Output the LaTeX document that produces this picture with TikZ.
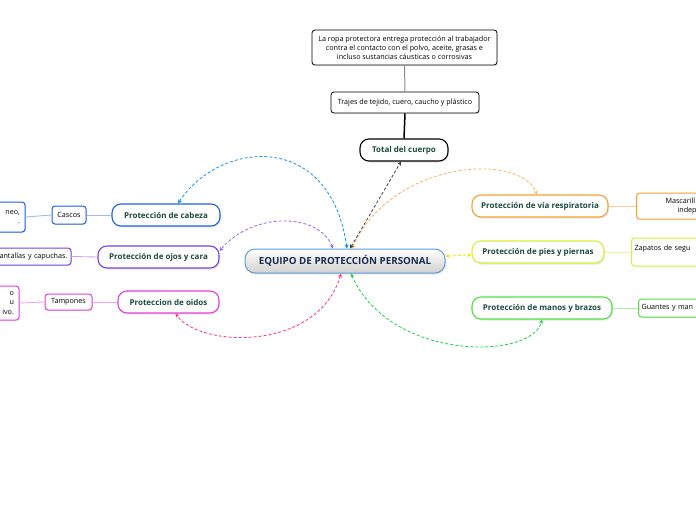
\documentclass[tikz,border=0pt]{standalone}
\usepackage{fontspec}
\setmainfont{Open Sans}
\usetikzlibrary{arrows.meta,shadows}

\definecolor{topictext}{HTML}{1B4A3C}
\definecolor{cablue}{HTML}{1E5FE6}
\definecolor{cabluel}{HTML}{9FBDF2}
\definecolor{ojpurple}{HTML}{7A3FE4}
\definecolor{ojpurplel}{HTML}{C7A8F2}
\definecolor{oimag}{HTML}{E23EE0}
\definecolor{oimagl}{HTML}{F0A6EE}
\definecolor{reorange}{HTML}{F5A232}
\definecolor{reorangel}{HTML}{F9CF95}
\definecolor{pilime}{HTML}{D6F03A}
\definecolor{pilimel}{HTML}{E8F69A}
\definecolor{magreen}{HTML}{52E042}
\definecolor{magreenl}{HTML}{A8F09E}
\definecolor{centroline}{HTML}{5A9ED6}
\definecolor{centrotext}{HTML}{1A2C4E}

\tikzset{
  topic/.style={draw, rounded corners=9pt, line width=1.1pt, fill=white, minimum height=22pt,
    inner sep=0pt, text=topictext, font=\fontsize{8}{10}\selectfont\bfseries,
    drop shadow={shadow xshift=1pt, shadow yshift=-1.5pt, opacity=0.2}},
  leaf/.style={draw, rounded corners=3pt, line width=1pt, fill=white, inner sep=0pt,
    font=\fontsize{7.2}{9.2}\selectfont, drop shadow={shadow xshift=0.8pt, shadow yshift=-1pt, opacity=0.15}},
  link/.style={dash pattern=on 3pt off 2pt, line width=0.8pt, {Stealth[length=4pt,width=4pt]}-{Stealth[length=4pt,width=4pt]}},
}

\begin{document}
\begin{tikzpicture}[x=1pt,y=-1pt]
  %%%%% START %%%%%
  \useasboundingbox (0,0) rectangle (696,520);
  \clip (0,0) rectangle (696,520);

  \node[draw=centroline, line width=1pt, rounded corners=10pt, top color=white, bottom color=black!18,
    minimum width=200pt, minimum height=24pt, inner sep=0pt, text=centrotext,
    font=\fontsize{9.8}{12}\selectfont\bfseries, drop shadow={shadow xshift=1pt, shadow yshift=-1.5pt, opacity=0.2}]
    (centro) at (345,261) {EQUIPO DE PROTECCIÓN PERSONAL};

  % cuerpo
  \node[topic, draw=black, minimum width=88pt] (total) at (404,150) {Total del cuerpo};
  \node[leaf, draw=black, line width=0.8pt, minimum width=148pt, minimum height=21pt] (trajes) at (405,102.5) {Trajes de tejido, cuero, caucho y plástico};
  \node[leaf, draw=black, line width=0.8pt, minimum width=185pt, minimum height=35pt, align=center] (ropa) at (404.5,47.5)
    {La ropa protectora entrega protección al trabajador\\contra el contacto con el polvo, aceite, grasas e\\incluso sustancias cáusticas o corrosivas};
  \draw[line width=1.5pt] (total.north) -- (trajes.south);
  \draw[line width=1pt, black!45] (trajes.north) -- (ropa.south);

  % cabeza
  \node[topic, draw=cablue, minimum width=108pt] (cabeza) at (166,215) {Protección de cabeza};
  \node[leaf, draw=cablue, minimum width=34pt, minimum height=18pt] (cascos) at (69,215) {Cascos};
  \node[leaf, draw=cablue, minimum width=80pt, minimum height=30pt, text width=70pt, align=right] (cascosinfo) at (-15,217) {neo,\\.\hspace*{13pt}};
  \draw[cabluel, line width=0.9pt] (cabeza.west) -- (cascos.east);
  \draw[cabluel, line width=0.9pt] (cascos.west) -- (cascosinfo.east);

  % ojos
  \node[topic, draw=ojpurple, minimum width=121pt] (ojos) at (158.5,257) {Protección de ojos y cara};
  \node[leaf, draw=ojpurple, minimum width=120pt, minimum height=17pt, text width=113pt, align=right] (pantallas) at (11,256.5) {antallas y capuchas.};
  \draw[ojpurplel, line width=0.9pt] (ojos.west) -- (pantallas.east);

  % oidos
  \node[topic, draw=oimag, minimum width=101pt] (oidos) at (168.5,302) {Proteccion de oidos};
  \node[leaf, draw=oimag, minimum width=47pt, minimum height=16pt] (tampones) at (68.5,302) {Tampones};
  \node[leaf, draw=oimag, minimum width=80pt, minimum height=34pt, text width=70pt, align=right] (tamponesinfo) at (-21,303) {o\hspace*{10pt}\\u\hspace*{7pt}\\ivo.};
  \draw[oimagl, line width=0.9pt] (oidos.west) -- (tampones.east);
  \draw[oimagl, line width=0.9pt] (tampones.west) -- (tamponesinfo.east);

  % respiratoria
  \node[topic, draw=reorange, minimum width=136pt] (resp) at (540,206) {Protección de vía respiratoria};
  \node[leaf, draw=reorange, anchor=west, minimum width=90pt, minimum height=26pt, text width=84pt, align=left] (mascarilla) at (636,206)
    {\hspace*{26pt}Mascarill\\\hspace*{38pt}indep};
  \draw[reorangel, line width=0.9pt] (resp.east) -- (mascarilla.west);

  % pies
  \node[topic, draw=pilime, minimum width=132pt] (pies) at (538,252) {Protección de pies y piernas};
  \node[leaf, draw=pilime, anchor=west, minimum width=90pt, minimum height=28pt, text width=84pt, align=left] (zapatos) at (631,252)
    {Zapatos de segu\\\mbox{}};
  \draw[pilimel, line width=0.9pt] (pies.east) -- (zapatos.west);

  % manos
  \node[topic, draw=magreen, minimum width=140pt] (manos) at (542,308) {Protección de manos y brazos};
  \node[leaf, draw=magreen, anchor=west, minimum width=90pt, minimum height=18pt, text width=84pt, align=left] (guantes) at (638,308)
    {Guantes y man};
  \draw[magreenl, line width=0.9pt] (manos.east) -- (guantes.west);

  % enlaces
  \draw[link, cablue!70!cyan] ([xshift=2pt]centro.north) .. controls (330,130) and (220,140) .. ([xshift=12pt]cabeza.north);
  \draw[link, ojpurple!80!white] ([xshift=-12pt]centro.north) .. controls (318,212) and (252,212) .. ([yshift=6pt]ojos.east);
  \draw[link, red!60!magenta!80!white] ([xshift=-4pt]centro.south) .. controls (318,352) and (200,348) .. ([xshift=7pt]oidos.south);
  \draw[link, green!60!teal!90!white] ([xshift=6pt]centro.south) .. controls (390,362) and (532,360) .. (manos.south);
  \draw[link, reorange!80!white] ([xshift=7pt]centro.north) .. controls (392,160) and (520,152) .. ([xshift=-3pt]resp.north);
  \draw[link, yellow!85!orange] ([yshift=5pt]centro.east) .. controls (455,256) and (462,255) .. ([yshift=-3pt]pies.west);
  \draw[link, black!75] ([xshift=5pt]centro.north) -- ([xshift=-3pt]total.south);
  %%%%% END %%%%%
\end{tikzpicture}
\end{document}
